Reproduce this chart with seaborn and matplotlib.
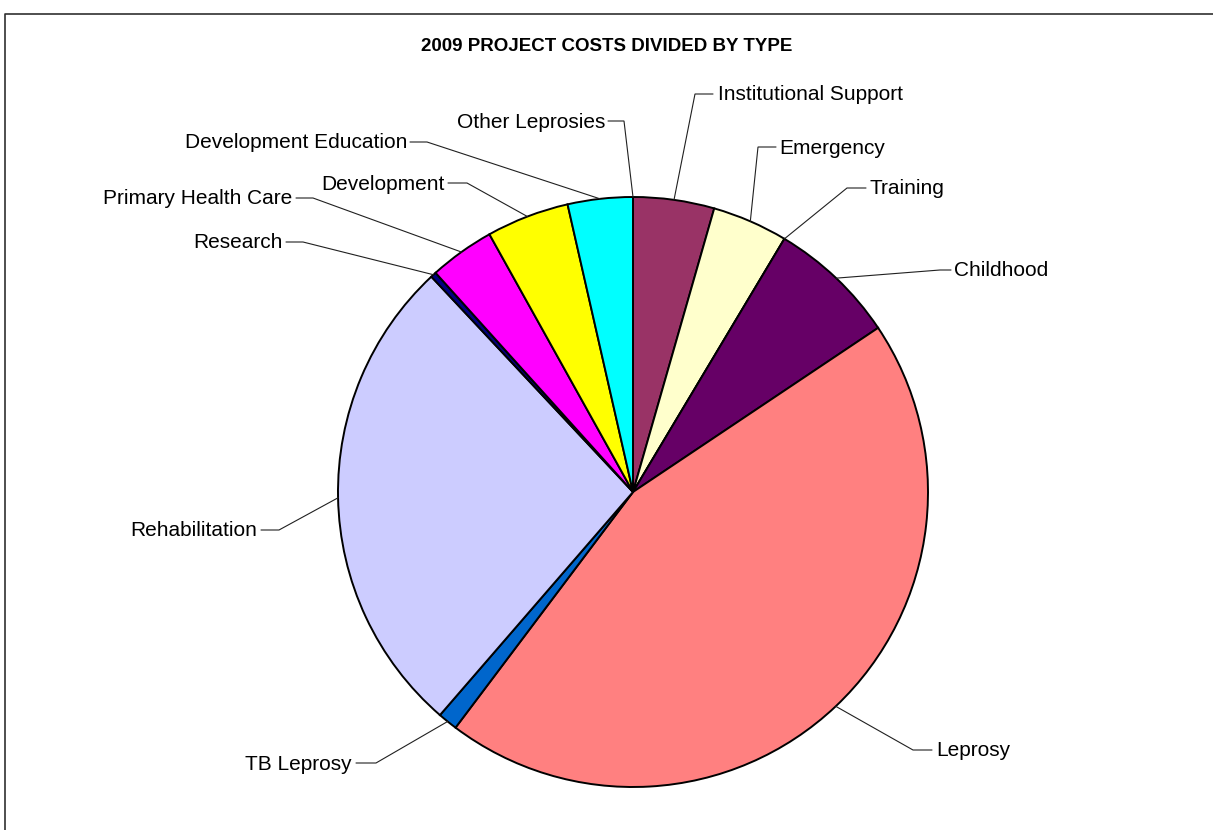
import numpy as np
import matplotlib
matplotlib.use("Agg")
import matplotlib.pyplot as plt
import seaborn as sns

# ---- data (percent of total costs) ----
categories = ["Other Leprosies", "Institutional Support", "Emergency", "Training",
              "Childhood", "Leprosy", "TB Leprosy", "Rehabilitation", "Research",
              "Primary Health Care", "Development", "Development Education"]
values = [0.0, 4.44, 4.14, 0.0, 7.03, 44.67, 1.08, 26.67, 0.31, 3.58, 4.53, 3.56]
colors = ["#9999FF", "#993366", "#FFFFCC", "#CCFFFF", "#660066", "#FF8080",
          "#0066CC", "#CCCCFF", "#000080", "#FF00FF", "#FFFF00", "#00FFFF"]
title = "2009 PROJECT COSTS DIVIDED BY TYPE"

# ---- layout (pixel coords, y downward) ----
W, H = 1213, 830
CX, CY, R = 633, 492, 295
# label: (text x, text y, ha, leader start x, elbow x)
label_layout = {
    "Other Leprosies":       (605, 121, "right", 608, 624),
    "Institutional Support": (718, 94,  "left",  713, 695),
    "Emergency":             (779, 147, "left",  776, 758),
    "Training":              (870, 188, "left",  866, 847),
    "Childhood":             (954, 270, "left",  951, 940),
    "Leprosy":               (936, 750, "left",  932, 913),
    "TB Leprosy":            (352, 763, "right", 356, 376),
    "Rehabilitation":        (257, 530, "right", 261, 279),
    "Research":              (283, 242, "right", 286, 303),
    "Primary Health Care":   (292, 198, "right", 296, 313),
    "Development":           (445, 183, "right", 448, 467),
    "Development Education": (407, 142, "right", 410, 427),
}

sns.set_theme(style="white")
plt.rcParams["font.family"] = ["Liberation Sans", "DejaVu Sans"]

fig = plt.figure(figsize=(W / 100, H / 100), dpi=100)
fig.patch.set_facecolor("white")
ax = fig.add_axes([0, 0, 1, 1])

def P(x, y):
    return x, H - y

ax.pie(values, colors=colors, startangle=90, counterclock=False,
       center=P(CX, CY), radius=R,
       wedgeprops=dict(edgecolor="black", linewidth=1.4))
ax.set_xlim(0, W)
ax.set_ylim(0, H)
ax.set_aspect("equal")
ax.axis("off")

vals = np.array(values, dtype=float)
cum = np.cumsum(vals)
mid_frac = (cum - vals / 2) / vals.sum()
for cat, f in zip(categories, mid_frac):
    th = np.deg2rad(360 * f)
    px = CX + R * np.sin(th)
    py = CY - R * np.cos(th)
    tx, ty, ha, sx, ex = label_layout[cat]
    xs = [sx, ex, px]
    ys = [ty, ty, py]
    ax.plot(xs, [H - y for y in ys], color="#202020", lw=0.8,
            solid_joinstyle="miter", zorder=5)
    ax.text(*P(tx, ty + 1), cat, ha=ha, va="center", fontsize=15, color="black")

ax.text(*P(607, 47), title, ha="center", va="center", fontsize=13.5,
        fontweight="bold", color="black")

# chart frame (left and top edges visible)
ax.plot([4.5, 4.5, W + 5], [-5, H - 14.5, H - 14.5], color="#303030", lw=1.2,
        clip_on=False)

fig.savefig("out.png", dpi=100, facecolor="white")
